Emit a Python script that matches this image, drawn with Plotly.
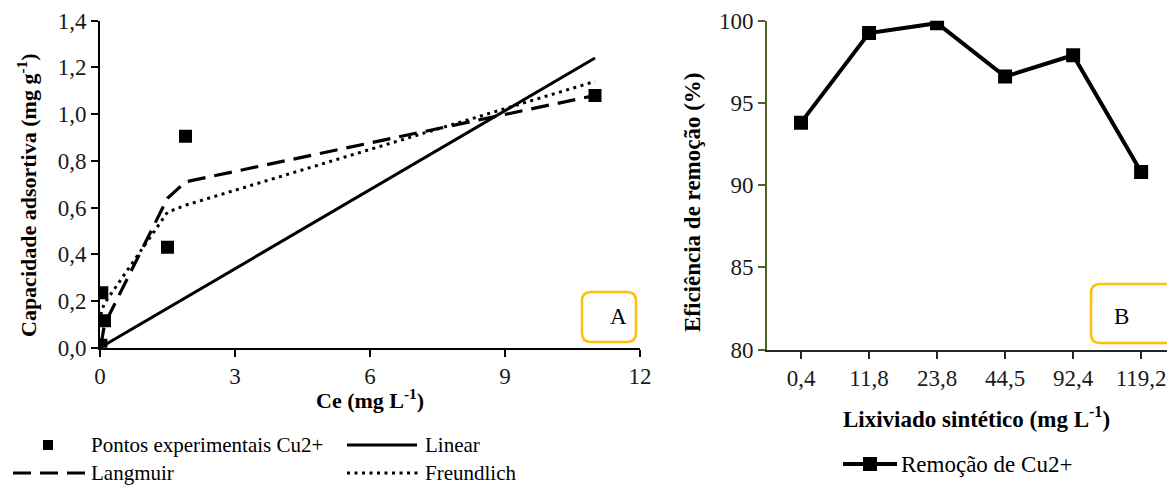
import plotly.graph_objects as go

# Isotherm data (panel A)
ce_exp = [0.02, 0.10, 0.04, 1.50, 1.90, 11.00]
q_exp = [0.01, 0.115, 0.235, 0.43, 0.905, 1.08]

ce_model = [0.02, 0.04, 0.10, 1.50, 1.90, 11.00]
q_langmuir = [0.01, 0.03, 0.10, 0.64, 0.71, 1.08]
q_freundlich = [0.14, 0.16, 0.19, 0.58, 0.61, 1.14]
ce_linear = [0.0, 11.0]
q_linear = [0.0, 1.24]

x_ticks_a = [0, 3, 6, 9, 12]
y_ticks_a = [0.0, 0.2, 0.4, 0.6, 0.8, 1.0, 1.2, 1.4]

# Removal efficiency (panel B)
lixiviado = ["0,4", "11,8", "23,8", "44,5", "92,4", "119,2"]
remocao = [93.8, 99.25, 99.85, 96.6, 97.9, 90.8]
y_ticks_b = [80, 85, 90, 95, 100]

legend_a = ["Pontos experimentais Cu2+", "Linear", "Langmuir", "Freundlich"]
legend_b = "Remoção de Cu2+"

FONT = "Liberation Serif"
W, H = 1167, 486


def px(x):
    return x / W


def py(y):
    return 1 - y / H


fig = go.Figure()

fig.add_trace(go.Scatter(x=ce_linear, y=q_linear, mode="lines",
                         line=dict(color="black", width=3), xaxis="x", yaxis="y"))
fig.add_trace(go.Scatter(x=ce_model, y=q_langmuir, mode="lines",
                         line=dict(color="black", width=3.2, dash="18px,9px"),
                         xaxis="x", yaxis="y"))
fig.add_trace(go.Scatter(x=ce_model, y=q_freundlich, mode="lines",
                         line=dict(color="black", width=3, dash="3px,4.5px"),
                         xaxis="x", yaxis="y"))
fig.add_trace(go.Scatter(x=ce_exp, y=q_exp, mode="markers",
                         marker=dict(symbol="square", size=13, color="black"),
                         xaxis="x", yaxis="y"))

fig.add_trace(go.Scatter(x=list(range(len(lixiviado))), y=remocao, mode="lines+markers",
                         line=dict(color="black", width=4),
                         marker=dict(symbol="square", size=14, color="black"),
                         xaxis="x2", yaxis="y2"))

tickfont = dict(family=FONT, size=23, color="#1a1a1a")
common = dict(showgrid=False, zeroline=False, showline=True, linewidth=2,
              ticks="outside", ticklen=7, tickwidth=2, tickfont=tickfont,
              automargin=False, ticklabeloverflow="allow")

fig.update_layout(
    width=W, height=H,
    margin=dict(l=0, r=0, t=0, b=0, autoexpand=False),
    paper_bgcolor="white", plot_bgcolor="white",
    showlegend=False,
    font=dict(family=FONT),
    xaxis=dict(domain=[px(100), px(640)], range=[0, 12], tickvals=x_ticks_a,
               ticktext=[str(v) for v in x_ticks_a], linecolor="black",
               tickcolor="black", anchor="y", **common),
    yaxis=dict(domain=[py(347.7), py(20.7)], range=[0, 1.4], tickvals=y_ticks_a,
               ticktext=[f"{v:.1f}".replace(".", ",") for v in y_ticks_a],
               linecolor="black", tickcolor="black", anchor="x", **common),
    xaxis2=dict(domain=[px(767), 1.0], range=[-0.5, 5.38],
                tickvals=list(range(len(lixiviado))), ticktext=lixiviado,
                linecolor="#262626", tickcolor="#262626", anchor="y2", **common),
    yaxis2=dict(domain=[py(349.5), py(20.7)], range=[80, 100], tickvals=y_ticks_b,
                linecolor="#4f6228", tickcolor="#4f6228", anchor="x2", **common),
)

annotations = [
    dict(text="<b>Capacidade adsortiva (mg g<sup>-1</sup>)</b>", x=px(27), y=py(195),
         textangle=-90, size=22),
    dict(text="<b>Ce (mg L<sup>-1</sup>)</b>", x=px(370), y=py(399), size=22),
    dict(text="<b>Eficiência de remoção (%)</b>", x=px(692), y=py(202), textangle=-90,
         size=23),
    dict(text="<b>Lixiviado sintético (mg L<sup>-1</sup>)</b>", x=px(976), y=py(417),
         size=23),
]
for a in annotations:
    size = a.pop("size")
    fig.add_annotation(xref="paper", yref="paper", showarrow=False,
                       font=dict(family=FONT, size=size, color="black"),
                       xanchor="center", yanchor="middle", **a)

# Panel labels in rounded boxes
box_color = "#ffc000"


def rounded_box(x0, y0, x1, y1, r=9):
    x0, x1 = px(x0), px(x1)
    y0, y1 = py(y0), py(y1)
    rx, ry = r / W, r / H
    path = (f"M {x0 + rx},{y0} L {x1 - rx},{y0} Q {x1},{y0} {x1},{y0 - ry} "
            f"L {x1},{y1 + ry} Q {x1},{y1} {x1 - rx},{y1} "
            f"L {x0 + rx},{y1} Q {x0},{y1} {x0},{y1 + ry} "
            f"L {x0},{y0 - ry} Q {x0},{y0} {x0 + rx},{y0} Z")
    fig.add_shape(type="path", path=path, xref="paper", yref="paper",
                  line=dict(color=box_color, width=2.5), fillcolor="white", layer="above")


rounded_box(582, 292, 636, 342)
rounded_box(1091, 284, 1190, 343)
label_font = dict(family=FONT, size=23, color="black")
fig.add_annotation(text="A", x=px(619), y=py(316), xref="paper", yref="paper",
                   showarrow=False, font=label_font)
fig.add_annotation(text="B", x=px(1131), y=py(316), xref="paper", yref="paper",
                   showarrow=False, font=label_font)

# Legend for panel A
leg_font = dict(family=FONT, size=21, color="black")
row1, row2 = 445, 473
fig.add_shape(type="rect", xref="paper", yref="paper",
              x0=px(43), x1=px(53), y0=py(450), y1=py(440),
              fillcolor="black", line=dict(width=0))
fig.add_shape(type="line", xref="paper", yref="paper", x0=px(347), x1=px(417),
              y0=py(row1), y1=py(row1), line=dict(color="black", width=3))
fig.add_shape(type="line", xref="paper", yref="paper", x0=px(13), x1=px(86),
              y0=py(row2), y1=py(row2), line=dict(color="black", width=3, dash="18px,9px"))
fig.add_shape(type="line", xref="paper", yref="paper", x0=px(347), x1=px(420),
              y0=py(row2), y1=py(row2), line=dict(color="black", width=3, dash="3px,4.5px"))
for text, x, y in [(legend_a[0], 89, row1), (legend_a[1], 423, row1),
                   (legend_a[2], 89, row2), (legend_a[3], 423, row2)]:
    fig.add_annotation(text=text, x=px(x), y=py(y), xref="paper", yref="paper",
                       showarrow=False, font=leg_font, xanchor="left", yanchor="middle")

# Legend for panel B
fig.add_shape(type="line", xref="paper", yref="paper", x0=px(843), x1=px(897),
              y0=py(464), y1=py(464), line=dict(color="black", width=4))
fig.add_shape(type="rect", xref="paper", yref="paper",
              x0=px(863), x1=px(877), y0=py(471), y1=py(457),
              fillcolor="black", line=dict(width=0))
fig.add_annotation(text=legend_b, x=px(899), y=py(464), xref="paper", yref="paper",
                   showarrow=False, font=dict(family=FONT, size=23, color="black"),
                   xanchor="left", yanchor="middle")

fig.write_html("out.html")
